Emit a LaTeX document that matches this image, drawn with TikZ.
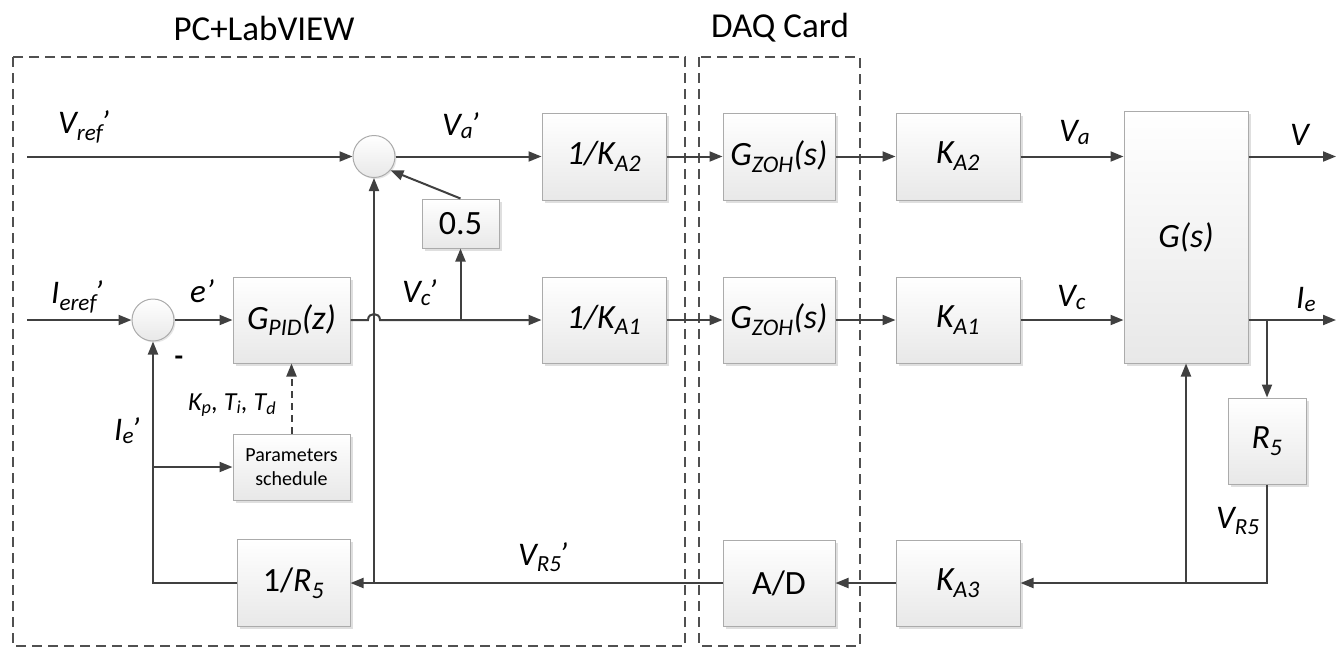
\documentclass[tikz,border=0pt]{standalone}
\usepackage{fontspec}
\setmainfont{Carlito}
\usetikzlibrary{arrows.meta,shadows}
\definecolor{ln}{HTML}{404040}
\definecolor{bx}{HTML}{ABABAB}
\definecolor{bb}{HTML}{E8E8E8}
\definecolor{dsh}{HTML}{505050}
\newcommand\sbs[1]{\textsubscript{#1}}
\newcommand\prm{\kern-0.08em’}
\tikzset{
  blk/.style={draw=bx, line width=1pt, top color=white, bottom color=bb, inner sep=0pt,
    drop shadow={shadow xshift=2.5pt, shadow yshift=-2.5pt, opacity=0.25},
    font=\fontsize{34}{40}\selectfont},
  blkit/.style={blk, font=\fontsize{34}{40}\selectfont\itshape},
  sumc/.style={circle, draw=bx, line width=1pt, top color=white, bottom color=bb, minimum size=42pt, inner sep=0pt,
    drop shadow={shadow xshift=1.5pt, shadow yshift=-1.5pt, opacity=0.2}},
  arr/.style={draw=ln, line width=2pt, -{Triangle[length=13pt,width=10pt]}},
  grp/.style={draw=dsh, line width=1.6pt, dash pattern=on 10pt off 6pt},
  sig/.style={anchor=base west, inner sep=0pt, font=\fontsize{33}{36}\selectfont\itshape},
  ttl/.style={inner sep=0pt, font=\fontsize{35}{40}\selectfont},
}
\begin{document}
\begin{tikzpicture}[x=1pt,y=-1pt]
\useasboundingbox (0,0) rectangle (1336,649);
% groups
\draw[grp] (13,57) rectangle (685,646);
\draw[grp] (699,57) rectangle (860,646);
\node[ttl] (tpc) at (264,28) {PC+LabVIEW};
\node[ttl] (tdaq) at (780,28) {DAQ Card};
% blocks
\node[blkit, minimum width=124pt, minimum height=87pt] (kA2inv) at (604,156.5) {1/K\sbs{A2}};
\node[blkit, minimum width=124pt, minimum height=86pt] (kA1inv) at (604,320) {1/K\sbs{A1}};
\node[blkit, minimum width=117pt, minimum height=86pt] (gpid) at (291.5,320) {G\sbs{PID}(z)};
\node[blk, minimum width=117pt, minimum height=66pt, font=\fontsize{20}{24}\selectfont, align=center] (param) at (291.5,467) {Parameters\\schedule};
\node[blk, minimum width=113pt, minimum height=87pt] (r5inv) at (293.5,583) {1/\textit{R\sbs{5}}};
\node[blk, minimum width=77pt, minimum height=49pt] (half) at (460.5,223.5) {0.5};
\node[sumc] (sum1) at (374,156.5) {};
\node[sumc] (sum2) at (153,320) {};
\node[blkit, minimum width=112pt, minimum height=87pt] (zoh1) at (779,156.5) {G\sbs{ZOH}(s)};
\node[blkit, minimum width=112pt, minimum height=86pt] (zoh2) at (779,320) {G\sbs{ZOH}(s)};
\node[blk, minimum width=112pt, minimum height=86pt] (ad) at (779,583) {A/D};
\node[blkit, minimum width=124pt, minimum height=87pt] (kA2) at (958,156.5) {K\sbs{A2}};
\node[blkit, minimum width=124pt, minimum height=86pt] (kA1) at (958,320) {K\sbs{A1}};
\node[blkit, minimum width=124pt, minimum height=86pt] (kA3) at (958,583) {K\sbs{A3}};
\node[blkit, minimum width=124pt, minimum height=252pt] (gs) at (1186,237) {G(s)};
\node[blkit, minimum width=78pt, minimum height=86pt] (r5) at (1267,441) {R\sbs{5}};
% free ends and junctions
\coordinate (vin) at (27,156.5);
\coordinate (iin) at (27,320);
\coordinate (vout) at (1336,156.5);
\coordinate (iout) at (1336,320);
\coordinate (jhalf) at (460.5,320);
\coordinate (jie) at (1267,320);
\coordinate (jr5) at (1267,583);
\coordinate (jgs) at (1186,583);
\coordinate (jvr) at (374,583);
\coordinate (jfb) at (153,583);
\coordinate (jpar) at (153,467);
% top row
\draw[arr] (vin) -- (sum1.west);
\draw[arr] (sum1.east) -- (kA2inv.west);
\draw[arr] (kA2inv.east) -- (zoh1.west);
\draw[arr] (zoh1.east) -- (kA2.west);
\draw[arr] (kA2.east) -- (kA2.east -| gs.west);
\draw[arr] (vout -| gs.east) -- (vout);
% middle row
\draw[arr] (iin) -- (sum2.west);
\draw[arr] (sum2.east) -- (gpid.west);
\draw[arr] (gpid.east) -- (368,320) .. controls (368,312) and (380,312) .. (380,320) -- (kA1inv.west);
\draw[arr] (jhalf) -- (half.south);
\draw[arr] (half.north) -- (sum1.-40);
\draw[arr] (kA1inv.east) -- (zoh2.west);
\draw[arr] (zoh2.east) -- (kA1.west);
\draw[arr] (kA1.east) -- (kA1.east -| gs.west);
\draw[arr] (iout -| gs.east) -- (iout);
\draw[arr] (jie) -- (r5.north);
% feedback
\draw[arr] (r5.south) -- (jr5) -- (kA3.east);
\draw[arr] (jgs) -- (gs.south);
\draw[arr] (kA3.west) -- (ad.east);
\draw[arr] (ad.west) -- (r5inv.east);
\draw[arr] (jvr) -- (sum1.south);
\draw[arr] (r5inv.west) -- (jfb) -- (sum2.south);
\draw[arr] (jpar) -- (param.west);
\draw[arr, dash pattern=on 7pt off 5pt] (param.north) -- (gpid.south);
% labels
\node[sig] (lvref) at (58,133) {V\sbs{ref}\prm};
\node[sig] (lva1) at (442,135) {V\sbs{a}\prm};
\node[sig] (lieref) at (51,303) {I\sbs{eref}\prm};
\node[sig] (le) at (190,302) {e’};
\node[sig] (lvc1) at (402,302) {V\sbs{c}\prm};
\node[inner sep=0pt, font=\fontsize{28}{30}\selectfont\bfseries] (lminus) at (179,361) {-};
\node[sig, font=\fontsize{26}{30}\selectfont\itshape] (lkp) at (188,410) {K\sbs{p}, T\sbs{i}, T\sbs{d}};
\node[sig] (lie1) at (114,440) {I\sbs{e}\prm};
\node[sig] (lvr1) at (518,565) {V\sbs{R5}\prm};
\node[sig] (lva) at (1059,141) {V\sbs{a}};
\node[sig] (lv) at (1290,145) {V};
\node[sig] (lvc) at (1057,306) {V\sbs{c}};
\node[sig] (lie) at (1296,308) {I\sbs{e}};
\node[sig] (lvr) at (1216,528) {V\sbs{R5}};
\end{tikzpicture}
\end{document}
